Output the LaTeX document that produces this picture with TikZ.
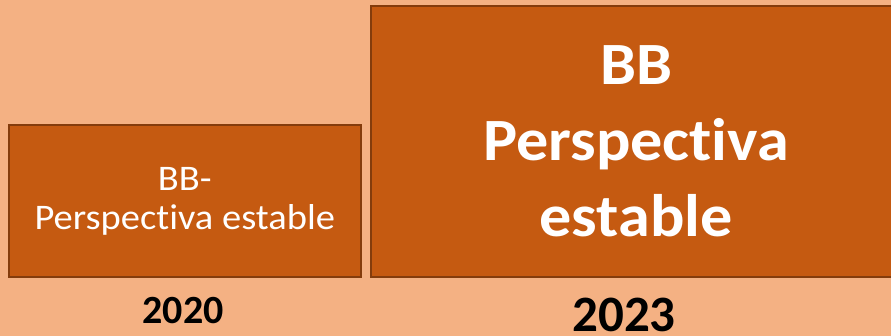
\documentclass[tikz,border=0pt]{standalone}
\usepackage{fontspec}
\setmainfont{Carlito}[Ligatures=NoCommon]
\newfontfamily\boxfont{Carlito}[Ligatures=NoCommon, FakeStretch=1.07]
\usepackage{xcolor}
\definecolor{peach}{HTML}{F4B183}
\definecolor{rust}{HTML}{C55A11}
\definecolor{rustdark}{HTML}{843C0C}
\begin{document}
\begin{tikzpicture}[x=1pt,y=-1pt,
    bar/.style={draw=rustdark, line width=2pt, fill=rust, text=white, align=center, inner sep=0pt},
    year/.style={anchor=base, font=\bfseries}]
            \useasboundingbox (0,0) rectangle (891,336);
            \fill[peach] (0,0) rectangle (891,336);

            \coordinate (P) at (184.75,201);
            \coordinate (Q) at (636,141.75);

            \node[bar, minimum width=352.5pt, minimum height=152pt,
                  font=\boxfont\fontsize{36}{39}\selectfont] (old) at (P) {\raisebox{-2pt}{BB-}\\\raisebox{-2pt}{Perspectiva estable}};
            \node[bar, minimum width=530pt, minimum height=270.5pt,
                  font=\boxfont\bfseries\fontsize{60}{76}\selectfont] (new) at (Q) {\raisebox{-2pt}{BB}\\\raisebox{-2pt}{Perspectiva}\\\raisebox{-2pt}{estable}};

            \node[year, font=\bfseries\fontsize{40}{40}\selectfont] (y20) at (183,324) {2020};
            \node[year, font=\bfseries\fontsize{51}{51}\selectfont] (y23) at (624,332) {2023};
        \end{tikzpicture}
\end{document}
